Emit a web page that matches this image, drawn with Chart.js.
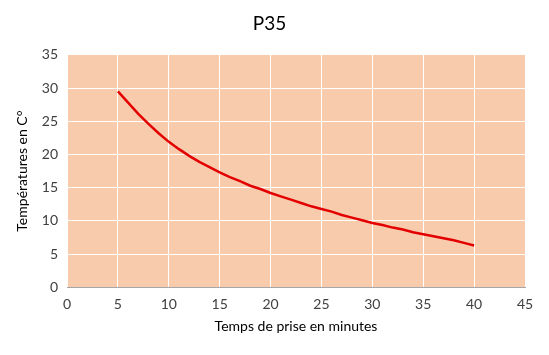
<!DOCTYPE html>
<html>
<head>
<meta charset="utf-8">
<script src="https://cdn.jsdelivr.net/npm/chart.js@4/dist/chart.umd.min.js"></script>
<style>
html,body{margin:0;padding:0;background:#fff;}
#wrap{width:549px;height:355px;position:relative;}
</style>
</head>
<body>
<div id="wrap"><canvas id="c" width="549" height="355"></canvas></div>
<script>
const minutes = [5,6,7,8,9,10,11,12,13,14,15,16,17,18,19,20,21,22,23,24,25,26,27,28,29,30,31,32,33,34,35,36,37,38,39,40];
const temperatures = [29.5,27.8,26.1,24.6,23.2,21.9,20.8,19.8,18.9,18.1,17.3,16.6,16.0,15.3,14.8,14.2,13.7,13.2,12.7,12.2,11.8,11.4,10.9,10.5,10.1,9.7,9.4,9.0,8.7,8.3,8.0,7.7,7.4,7.1,6.7,6.3];
const xTicks = [0,5,10,15,20,25,30,35,40,45];
const yTicks = [0,5,10,15,20,25,30,35];

const bgPlugin = {
  id:'plotBg',
  beforeDraw(chart){
    const {ctx, chartArea:a} = chart;
    ctx.save();
    ctx.fillStyle = '#F8CBAD';
    ctx.fillRect(a.left, a.top, a.right-a.left, a.bottom-a.top);
    ctx.restore();
  }
};

const FONT = "Lato, 'Open Sans', sans-serif";
new Chart(document.getElementById('c'), {
  type:'scatter',
  data:{datasets:[{
    label:'P35',
    data: minutes.map((m,i)=>({x:m,y:temperatures[i]})),
    showLine:true,
    borderColor:'#E30000',
    borderWidth:2.5,
    pointRadius:0,
    tension:0
  }]},
  options:{
    responsive:false,
    animation:false,
    layout:{padding:{left:14,right:24,top:4,bottom:16}},
    plugins:{
      legend:{display:false},
      tooltip:{enabled:false},
      title:{display:true,text:'P35',color:'#000',font:{family:FONT,size:19,weight:'normal'},padding:{top:8,bottom:20}}
    },
    scales:{
      x:{
        type:'linear',min:0,max:45,
        afterBuildTicks(s){s.ticks = xTicks.map(v=>({value:v}));},
        grid:{color:'#FFFFFF',lineWidth:1,drawTicks:false},
        border:{display:true,color:'#A6A6A6',width:1},
        ticks:{color:'#404040',font:{family:FONT,size:14},padding:9,maxRotation:0},
        title:{display:true,text:'Temps de prise en minutes',color:'#000',font:{family:FONT,size:14},padding:{top:-4}}
      },
      y:{
        min:0,max:35,
        afterBuildTicks(s){s.ticks = yTicks.map(v=>({value:v}));},
        grid:{color:'#FFFFFF',lineWidth:1,drawTicks:false},
        border:{display:false},
        ticks:{color:'#404040',font:{family:FONT,size:14},padding:9},
        title:{display:true,text:'Températures en C°',color:'#000',font:{family:FONT,size:14},padding:{top:0,bottom:2}}
      }
    }
  },
  plugins:[bgPlugin]
});
</script>
</body>
</html>
